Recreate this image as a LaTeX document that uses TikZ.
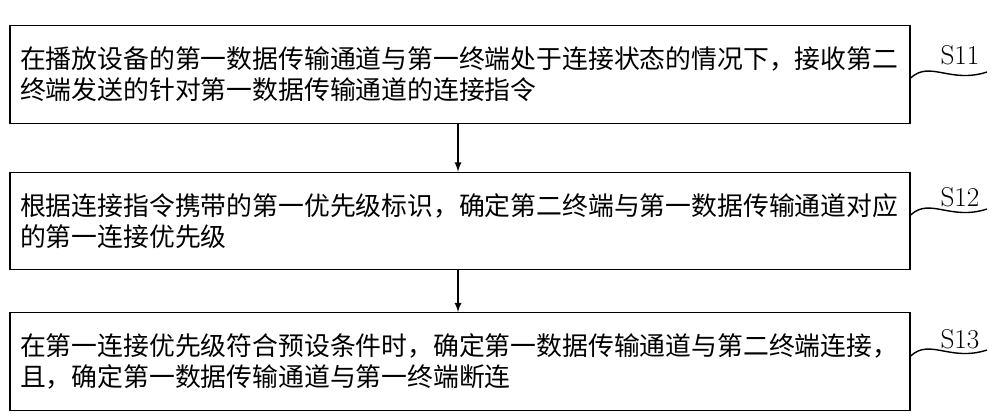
\documentclass[tikz,border=0pt]{standalone}
\usepackage{fontspec}
\newfontfamily\cjk{Noto Sans CJK SC}
\usepackage{tikz}
\XeTeXlinebreaklocale "zh"
\XeTeXlinebreakskip = 0pt plus 1pt

\begin{document}
\begin{tikzpicture}[x=0.02cm, y=-0.02cm, line width = 0.8pt,
								stepbox/.style = {draw, text width = 17.6cm,
								inner xsep = 0.2cm, minimum height = 1.95cm,
								align = left, font = \cjk\fontsize{14.7}{17.5}\selectfont},
								tag/.style = {font = \fontsize{15.5}{17}\selectfont}]
				\useasboundingbox (0,0) rectangle (1000,417);

				\node [stepbox] (s_1) at (460,74.5) {在播放设备的第一数据传输通道与第一终端处于连接状态的情况下，接收第二\\终端发送的针对第一数据传输通道的连接指令};
				\node [stepbox] (s_2) at (460,221) {根据连接指令携带的第一优先级标识，确定第二终端与第一数据传输通道对应\\的第一连接优先级};
				\node [stepbox] (s_3) at (460,361.5) {在第一连接优先级符合预设条件时，确定第一数据传输通道与第二终端连接，\\且，确定第一数据传输通道与第一终端断连};

				\draw [-latex] (s_1.south -| 458,0) -- (s_2.north -| 458,0);
				\draw [-latex] (s_2.south -| 458,0) -- (s_3.north -| 458,0);

				\node [tag] (t_1) at (960,55) {S11};
				\node [tag] (t_2) at (960,197) {S12};
				\node [tag] (t_3) at (960,339) {S13};

				\draw (s_1.east |- 0,78) .. controls (930,60) and (950,84) .. (987,72);
				\draw (s_2.east |- 0,215) .. controls (930,197) and (950,221) .. (987,209);
				\draw (s_3.east |- 0,356) .. controls (930,338) and (950,362) .. (987,350);
			\end{tikzpicture}
\end{document}
